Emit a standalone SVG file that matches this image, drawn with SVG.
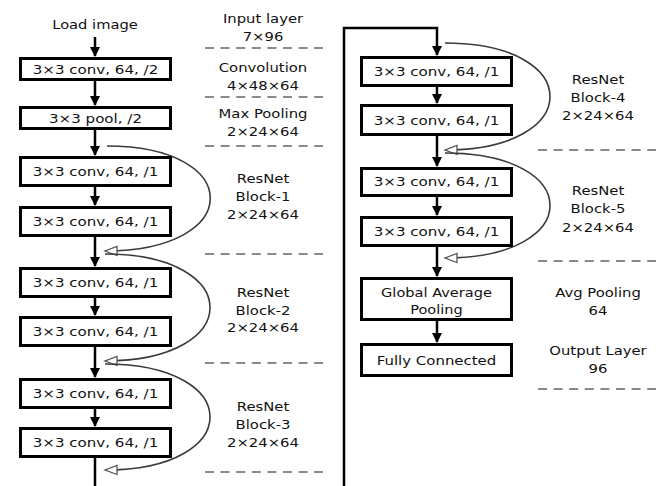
<svg xmlns="http://www.w3.org/2000/svg" width="662" height="486" viewBox="0 0 662 486">
<style>
.box{fill:#fff;stroke:#000;stroke-width:3}
.t{font-family:"DejaVu Sans","Open Sans",sans-serif;font-size:13px;fill:#111;text-anchor:middle;dominant-baseline:central}
.flow{fill:none;stroke:#000;stroke-width:2.5}
.skip{fill:none;stroke:#3a3a3a;stroke-width:1.6}
.dash{stroke:#8a8a8a;stroke-width:2;stroke-dasharray:9 6.6}
</style>
<defs>
<marker id="ah" markerUnits="userSpaceOnUse" markerWidth="10" markerHeight="10" refX="9" refY="5" orient="auto">
<path d="M0,0 L10,5 L0,10 z" fill="#000"/>
</marker>
<marker id="ho" markerUnits="userSpaceOnUse" markerWidth="16" markerHeight="12" refX="13" refY="5.5" orient="auto">
<path d="M1,1 L13,5.5 L1,10 z" fill="#fff" stroke="#555" stroke-width="1.3"/>
</marker>
</defs>

<g id="connectors">
<line class="flow" x1="95" y1="37" x2="95" y2="56" marker-end="url(#ah)"/>
<line class="flow" x1="95" y1="81" x2="95" y2="105" marker-end="url(#ah)"/>
<line class="flow" x1="95" y1="130" x2="95" y2="155" marker-end="url(#ah)"/>
<line class="flow" x1="95" y1="187" x2="95" y2="205" marker-end="url(#ah)"/>
<line class="flow" x1="95" y1="237" x2="95" y2="266" marker-end="url(#ah)"/>
<line class="flow" x1="95" y1="298" x2="95" y2="315" marker-end="url(#ah)"/>
<line class="flow" x1="95" y1="347" x2="95" y2="377" marker-end="url(#ah)"/>
<line class="flow" x1="95" y1="409" x2="95" y2="426" marker-end="url(#ah)"/>
<line class="flow" x1="95" y1="458" x2="95" y2="486"/>
<polyline class="flow" points="344,486 344,28 437,28 437,55" marker-end="url(#ah)"/>
<line class="flow" x1="437" y1="87" x2="437" y2="103" marker-end="url(#ah)"/>
<line class="flow" x1="437" y1="136" x2="437" y2="166" marker-end="url(#ah)"/>
<line class="flow" x1="437" y1="196" x2="437" y2="215" marker-end="url(#ah)"/>
<line class="flow" x1="437" y1="247" x2="437" y2="276" marker-end="url(#ah)"/>
<line class="flow" x1="437" y1="321" x2="437" y2="342" marker-end="url(#ah)"/>
<path class="skip" d="M107,146 C245,146 245,251 105,251" marker-end="url(#ho)"/>
<path class="skip" d="M105,254 C245,254 245,361 105,361" marker-end="url(#ho)"/>
<path class="skip" d="M105,364 C245,364 245,470 105,470" marker-end="url(#ho)"/>
<path class="skip" d="M445,43 C585,43 585,150 445,150" marker-end="url(#ho)"/>
<path class="skip" d="M445,153 C585,153 585,258 445,258" marker-end="url(#ho)"/>
</g>

<g id="load"><text class="t" transform="translate(95,24) scale(1.13,1)">Load image</text></g>
<g id="conv1"><rect class="box" x="20.5" y="58.5" width="150" height="21"/><text class="t" transform="translate(95.5,69) scale(1.16,1)">3×3 conv, 64, /2</text></g>
<g id="pool"><rect class="box" x="20.5" y="107.5" width="150" height="21"/><text class="t" transform="translate(95.5,118) scale(1.16,1)">3×3 pool, /2</text></g>
<g id="b1a"><rect class="box" x="20.5" y="157.5" width="150" height="28"/><text class="t" transform="translate(95.5,171.5) scale(1.16,1)">3×3 conv, 64, /1</text></g>
<g id="b1b"><rect class="box" x="20.5" y="207.5" width="150" height="28"/><text class="t" transform="translate(95.5,221.5) scale(1.16,1)">3×3 conv, 64, /1</text></g>
<g id="b2a"><rect class="box" x="20.5" y="268.5" width="150" height="28"/><text class="t" transform="translate(95.5,282.5) scale(1.16,1)">3×3 conv, 64, /1</text></g>
<g id="b2b"><rect class="box" x="20.5" y="317.5" width="150" height="28"/><text class="t" transform="translate(95.5,331.5) scale(1.16,1)">3×3 conv, 64, /1</text></g>
<g id="b3a"><rect class="box" x="20.5" y="379.5" width="150" height="28"/><text class="t" transform="translate(95.5,393.5) scale(1.16,1)">3×3 conv, 64, /1</text></g>
<g id="b3b"><rect class="box" x="20.5" y="428.5" width="150" height="28"/><text class="t" transform="translate(95.5,442.5) scale(1.16,1)">3×3 conv, 64, /1</text></g>

<g id="b4a"><rect class="box" x="361.5" y="57.5" width="150" height="28"/><text class="t" transform="translate(436.5,71.5) scale(1.16,1)">3×3 conv, 64, /1</text></g>
<g id="b4b"><rect class="box" x="361.5" y="105.5" width="150" height="29"/><text class="t" transform="translate(436.5,120) scale(1.16,1)">3×3 conv, 64, /1</text></g>
<g id="b5a"><rect class="box" x="361.5" y="168.5" width="150" height="27"/><text class="t" transform="translate(436.5,181.5) scale(1.16,1)">3×3 conv, 64, /1</text></g>
<g id="b5b"><rect class="box" x="361.5" y="217.5" width="150" height="28"/><text class="t" transform="translate(436.5,231.5) scale(1.16,1)">3×3 conv, 64, /1</text></g>
<g id="gap"><rect class="box" x="361.5" y="278.5" width="150" height="41"/><text class="t" transform="translate(436.5,292) scale(1.12,1)">Global Average</text><text class="t" transform="translate(436.5,309) scale(1.12,1)">Pooling</text></g>
<g id="fc"><rect class="box" x="361.5" y="344.5" width="150" height="31"/><text class="t" transform="translate(436.5,360) scale(1.15,1)">Fully Connected</text></g>

<g id="labels">
<text class="t" transform="translate(263,18) scale(1.14,1)">Input layer</text>
<text class="t" transform="translate(263,36) scale(1.14,1)">7×96</text>
<line class="dash" x1="205" y1="48" x2="323" y2="48"/>
<text class="t" transform="translate(263,67) scale(1.14,1)">Convolution</text>
<text class="t" transform="translate(263,85) scale(1.14,1)">4×48×64</text>
<line class="dash" x1="205" y1="97" x2="323" y2="97"/>
<text class="t" transform="translate(263,113) scale(1.14,1)">Max Pooling</text>
<text class="t" transform="translate(263,131) scale(1.14,1)">2×24×64</text>
<line class="dash" x1="205" y1="146" x2="323" y2="146"/>
<text class="t" transform="translate(263,178) scale(1.14,1)">ResNet</text>
<text class="t" transform="translate(263,196) scale(1.14,1)">Block-1</text>
<text class="t" transform="translate(263,214) scale(1.14,1)">2×24×64</text>
<line class="dash" x1="205" y1="254" x2="323" y2="254"/>
<text class="t" transform="translate(263,292) scale(1.14,1)">ResNet</text>
<text class="t" transform="translate(263,310) scale(1.14,1)">Block-2</text>
<text class="t" transform="translate(263,327) scale(1.14,1)">2×24×64</text>
<line class="dash" x1="205" y1="363" x2="323" y2="363"/>
<text class="t" transform="translate(263,406) scale(1.14,1)">ResNet</text>
<text class="t" transform="translate(263,424) scale(1.14,1)">Block-3</text>
<text class="t" transform="translate(263,442) scale(1.14,1)">2×24×64</text>
<line class="dash" x1="205" y1="472" x2="323" y2="472"/>

<text class="t" transform="translate(598,79) scale(1.14,1)">ResNet</text>
<text class="t" transform="translate(598,97) scale(1.14,1)">Block-4</text>
<text class="t" transform="translate(598,115) scale(1.14,1)">2×24×64</text>
<line class="dash" x1="538" y1="150" x2="656" y2="150"/>
<text class="t" transform="translate(598,190) scale(1.14,1)">ResNet</text>
<text class="t" transform="translate(598,208) scale(1.14,1)">Block-5</text>
<text class="t" transform="translate(598,227) scale(1.14,1)">2×24×64</text>
<line class="dash" x1="538" y1="261" x2="656" y2="261"/>
<text class="t" transform="translate(598,292) scale(1.14,1)">Avg Pooling</text>
<text class="t" transform="translate(598,310) scale(1.14,1)">64</text>
<text class="t" transform="translate(598,350) scale(1.14,1)">Output Layer</text>
<text class="t" transform="translate(598,368) scale(1.14,1)">96</text>
<line class="dash" x1="538" y1="389" x2="656" y2="389"/>
</g>
</svg>
